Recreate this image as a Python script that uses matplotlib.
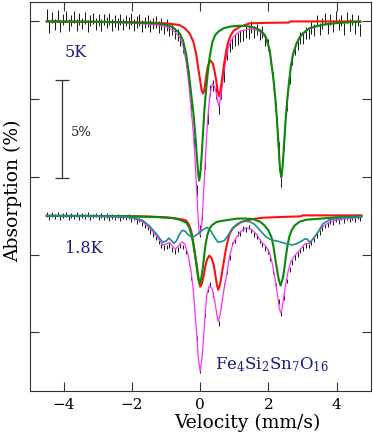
"""Mossbauer spectra of Fe4Si2Sn7O16 at 5 K and 1.8 K with fit components."""
import numpy as np
import matplotlib
matplotlib.use('Agg')
import matplotlib.pyplot as plt

plt.rcParams['font.family'] = 'DejaVu Serif'
plt.rcParams['mathtext.fontset'] = 'dejavuserif'

# ---- 5 K fit (velocity mm/s, absorption % ; baseline 0) ----
vel_red_5k = [-4.5, -3.0, -2.0, -1.5, -1.0, -0.8, -0.6, -0.45, -0.31, -0.2, -0.12, -0.05, 0.0,
              0.04, 0.08, 0.12, 0.17, 0.22, 0.29, 0.37, 0.42, 0.47, 0.51, 0.55, 0.59, 0.64,
              0.7, 0.76, 0.82, 0.9, 0.98, 1.16, 1.45, 2.0, 2.6, 2.65, 4.7]
abs_red_5k = [0.0, -0.02, -0.04, -0.06, -0.1, -0.14, -0.19, -0.35, -0.62, -1.05, -1.65, -2.5, -3.05,
              -3.5, -3.71, -3.55, -2.9, -2.34, -2.0, -2.16, -2.55, -3.03, -3.55, -3.85, -3.6, -3.0,
              -2.2, -1.55, -1.05, -0.7, -0.48, -0.28, -0.1, -0.07, -0.06, 0.0, 0.0]

vel_grn_5k = [-4.5, -3.0, -2.0, -1.5, -1.2, -1.0, -0.8, -0.6, -0.5, -0.41, -0.33, -0.26, -0.2,
              -0.15, -0.1, -0.06, -0.03, 0.0, 0.04, 0.08, 0.13, 0.18, 0.23, 0.28, 0.36, 0.44,
              0.55, 0.7, 0.9, 1.16, 1.4, 1.6, 1.75, 1.85, 1.94, 2.04, 2.1, 2.15, 2.2, 2.25,
              2.3, 2.34, 2.38, 2.42, 2.46, 2.5, 2.55, 2.6, 2.66, 2.72, 2.82, 2.92, 3.02, 3.2,
              3.4, 3.6, 3.8, 4.2, 4.69]
abs_grn_5k = [0.0, -0.02, -0.05, -0.08, -0.12, -0.17, -0.3, -0.62, -1.0, -1.7, -2.7, -3.8, -4.7,
              -5.7, -6.9, -7.8, -8.18, -7.9, -7.0, -5.8, -4.4, -3.4, -2.5, -1.8, -1.05, -0.7,
              -0.5, -0.34, -0.26, -0.22, -0.25, -0.32, -0.45, -0.6, -0.85, -1.5, -2.3, -3.0, -3.9, -5.0,
              -6.4, -7.6, -8.02, -7.4, -6.3, -5.2, -4.1, -3.2, -2.3, -1.7, -1.15, -0.8, -0.6, -0.35,
              -0.25, -0.17, -0.12, -0.06, -0.02]

vel_tot_5k = [-4.5, -3.0, -2.0, -1.5, -1.2, -1.0, -0.8, -0.6, -0.5, -0.41, -0.33, -0.26, -0.2,
              -0.15, -0.1, -0.06, -0.03, 0.0, 0.04, 0.08, 0.13, 0.18, 0.23, 0.28, 0.32, 0.36,
              0.42, 0.47, 0.51, 0.55, 0.59, 0.64, 0.7, 0.76, 0.82, 0.9, 0.98, 1.16, 1.45, 1.6,
              1.75, 1.85, 1.94, 2.04, 2.1, 2.15, 2.2, 2.25, 2.3, 2.34, 2.38, 2.42, 2.46, 2.5,
              2.55, 2.6, 2.66, 2.72, 2.82, 2.92, 3.02, 3.2, 3.4, 3.6, 3.8, 4.2, 4.69]
abs_tot_5k = [0.0, -0.04, -0.09, -0.14, -0.2, -0.27, -0.44, -0.81, -1.28, -2.1, -3.27, -4.6, -5.75,
              -7.1, -8.8, -10.1, -10.9, -11.0, -10.5, -9.5, -7.8, -6.2, -4.8, -3.9, -3.45, -3.2,
              -3.35, -3.65, -4.1, -4.35, -4.05, -3.4, -2.55, -1.9, -1.4, -1.0, -0.78, -0.52, -0.38, -0.42,
              -0.53, -0.68, -0.92, -1.57, -2.37, -3.07, -3.97, -5.07, -6.47, -7.67, -8.09, -7.47, -6.37, -5.27,
              -4.17, -3.27, -2.36, -1.76, -1.21, -0.86, -0.64, -0.38, -0.27, -0.18, -0.13, -0.06, -0.02]

# ---- 1.8 K fit (offset baseline -10) ----
vel_red_18k = [-4.5, -3.0, -2.0, -1.5, -1.0, -0.7, -0.5, -0.41, -0.33, -0.26, -0.2, -0.15, -0.1,
               -0.05, 0.0, 0.05, 0.1, 0.15, 0.2, 0.27, 0.34, 0.4, 0.45, 0.49, 0.53, 0.58, 0.63,
               0.68, 0.73, 0.78, 0.86, 0.95, 1.06, 1.2, 1.35, 1.6, 1.84, 2.4, 2.95, 3.0, 4.73]
abs_red_18k = [-10.0, -10.01, -10.02, -10.04, -10.08, -10.14, -10.2, -10.25, -10.45, -10.8, -11.4, -12.0, -12.55,
               -13.2, -13.65, -13.5, -13.1, -12.6, -12.25, -12.05, -12.2, -12.55, -13.1, -13.55, -13.81, -13.55, -13.05,
               -12.5, -11.95, -11.5, -10.93, -10.65, -10.5, -10.32, -10.24, -10.15, -10.1, -10.06, -10.03, -9.98, -9.98]

vel_grn_18k = [-4.5, -3.0, -2.0, -1.2, -0.8, -0.61, -0.41, -0.32, -0.26, -0.22, -0.16, -0.1, -0.06,
               -0.02, 0.02, 0.08, 0.12, 0.16, 0.21, 0.27, 0.35, 0.47, 0.6, 0.8, 1.06, 1.3, 1.55,
               1.75, 1.89, 2.0, 2.09, 2.15, 2.21, 2.26, 2.31, 2.36, 2.43, 2.47, 2.51, 2.56, 2.61,
               2.68, 2.77, 2.92, 3.12, 3.51, 4.0, 4.73]
abs_grn_18k = [-10.0, -10.01, -10.03, -10.07, -10.12, -10.2, -10.35, -10.6, -10.95, -11.27, -11.9, -12.65, -13.2,
               -13.5, -13.35, -12.65, -12.0, -11.44, -11.0, -10.67, -10.48, -10.33, -10.27, -10.22, -10.15, -10.14, -10.17,
               -10.3, -10.5, -10.75, -11.1, -11.6, -12.3, -12.85, -13.33, -13.59, -13.16, -12.7, -12.13, -11.55, -11.1,
               -10.75, -10.5, -10.3, -10.2, -10.15, -10.08, -10.03]

vel_teal_18k = [-4.5, -3.0, -2.2, -1.9, -1.69, -1.5, -1.3, -1.1, -1.0, -0.92, -0.84, -0.77, -0.7,
                -0.62, -0.53, -0.45, -0.38, -0.3, -0.22, -0.12, -0.02, 0.1, 0.2, 0.3, 0.42, 0.52,
                0.62, 0.71, 0.8, 0.9, 1.0, 1.12, 1.3, 1.45, 1.6, 1.78, 1.94, 2.1, 2.28, 2.53,
                2.7, 2.82, 2.95, 3.07, 3.14, 3.21, 3.3, 3.45, 3.6, 3.8, 4.2, 4.73]
abs_teal_18k = [-10.0, -10.02, -10.05, -10.12, -10.24, -10.5, -10.9, -11.36, -11.3, -11.15, -11.28, -11.42, -11.3,
                -11.0, -10.75, -10.78, -10.92, -11.05, -11.1, -11.0, -10.85, -10.7, -10.6, -10.75, -11.1, -11.36,
                -11.33, -11.27, -11.05, -10.78, -10.55, -10.38, -10.28, -10.3, -10.45, -10.8, -11.1, -11.25, -11.31, -11.44,
                -11.5, -11.44, -11.33, -11.19, -11.2, -11.36, -11.22, -10.85, -10.41, -10.2, -10.1, -10.05]

vel_tot_18k = [-4.5, -3.0, -2.0, -1.7, -1.5, -1.3, -1.1, -1.0, -0.9, -0.8, -0.73, -0.65, -0.55,
               -0.45, -0.35, -0.26, -0.2, -0.15, -0.1, -0.05, 0.0, 0.05, 0.1, 0.15, 0.2, 0.27,
               0.35, 0.42, 0.48, 0.53, 0.58, 0.63, 0.7, 0.78, 0.86, 0.95, 1.06, 1.2, 1.35, 1.5,
               1.65, 1.8, 1.94, 2.04, 2.12, 2.2, 2.27, 2.32, 2.36, 2.4, 2.45, 2.51, 2.58, 2.66,
               2.77, 2.9, 3.0, 3.07, 3.14, 3.21, 3.3, 3.45, 3.6, 3.8, 4.2, 4.73]
abs_tot_18k = [-10.0, -10.04, -10.1, -10.3, -10.6, -11.0, -11.5, -11.45, -11.37, -11.6, -11.72, -11.57, -11.35,
               -11.45, -12.05, -12.95, -13.87, -15.0, -16.15, -17.4, -18.0, -17.38, -16.27, -14.93, -14.0, -13.6,
               -13.75, -14.3, -15.0, -15.45, -15.14, -14.6, -13.75, -13.0, -12.1, -11.5, -11.1, -10.8, -10.62, -10.7,
               -10.95, -11.35, -11.6, -11.95, -12.5, -13.3, -14.1, -14.75, -14.99, -14.8, -14.2, -13.5, -12.85, -12.35,
               -12.05, -11.8, -11.6, -11.45, -11.42, -11.45, -11.2, -10.85, -10.55, -10.32, -10.16, -10.08]

# ---- measured points (channel velocities) ----
data_vel = np.linspace(-4.5, 4.7, 116)
data_5k = [0.35, -0.30, 0.20, -0.15, 0.30, -0.25, 0.10, 0.25, -0.20, 0.05,
           0.22, -0.18, 0.12, -0.10, 0.18, -0.22, 0.05, 0.15, -0.12, 0.08,
           -0.20, 0.10, -0.05, 0.14, -0.18, 0.02, -0.12, 0.10, -0.15, 0.04,
           -0.08, 0.12, -0.20, -0.02, 0.06, -0.22, -0.05, 0.02, -0.25, -0.10,
           -0.02, -0.28, -0.12, -0.35, -0.20, -0.45, -0.38, -0.62, -0.70, -0.95,
           -1.35, -2.05, -3.15, -4.55, -6.30, -8.70, -10.80, -9.90, -7.30, -5.00,
           -3.55, -3.30, -3.70, -4.45, -3.70, -2.80, -1.70, -1.25, -1.10, -0.95,
           -0.90, -0.75, -0.70, -0.55, -0.60, -0.30, -0.55, -0.42, -0.68, -0.55,
           -0.95, -1.20, -1.80, -2.90, -4.45, -6.50, -8.20, -6.30, -4.30, -2.90,
           -1.95, -1.45, -1.15, -0.85, -0.85, -0.60, -0.62, -0.35, -0.45, 0.05,
           -0.38, -0.10, 0.15, -0.35, 0.10, -0.25, 0.25, -0.15, 0.05, -0.40,
           0.20, -0.20, 0.10, -0.35, 0.05, -0.45]
data_18k = [-9.92, -10.08, -9.95, -10.05, -9.90, -10.10, -9.97, -9.93, -10.08, -9.98,
            -10.06, -9.94, -10.10, -9.99, -10.04, -9.95, -10.09, -10.02, -9.96, -10.12,
            -10.00, -10.08, -9.98, -10.14, -10.03, -10.10, -10.02, -10.15, -10.06, -10.12,
            -10.04, -10.18, -10.10, -10.28, -10.22, -10.40, -10.50, -10.62, -10.82, -10.95,
            -11.15, -11.32, -11.55, -11.62, -11.60, -11.52, -11.75, -11.85, -11.72, -11.55,
            -11.60, -11.85, -12.40, -13.20, -14.55, -16.30, -17.95, -17.05, -15.10, -13.80,
            -13.55, -14.05, -14.95, -15.55, -14.65, -13.60, -12.90, -12.15, -11.45, -11.30,
            -10.92, -10.90, -10.65, -10.70, -10.58, -10.78, -10.95, -11.05, -11.30, -11.50,
            -11.68, -11.85, -12.20, -12.85, -13.60, -14.40, -15.05, -14.20, -13.35, -12.75,
            -12.40, -12.15, -12.00, -11.80, -11.70, -11.52, -11.55, -11.40, -11.25, -11.00,
            -10.85, -10.65, -10.52, -10.45, -10.30, -10.36, -10.20, -10.30, -10.12, -10.25,
            -10.10, -10.22, -10.08, -10.20, -10.05, -10.15]

RED = '#ff1010'
GREEN = '#078a07'
TEAL = '#1a8f8f'
MAGENTA = '#ff30ff'
NAVY = '#1a1a85'

fig = plt.figure(figsize=(3.73, 4.33), dpi=100)
ax = fig.add_axes([0.0796, 0.0977, 0.9142, 0.8977])

ax.errorbar(data_vel, data_5k, yerr=0.3, fmt='none', ecolor='#151515', elinewidth=0.7, zorder=1)
ax.errorbar(data_vel, data_18k, yerr=0.12, fmt='none', ecolor='#151515', elinewidth=0.7, zorder=1)

ax.plot(vel_tot_5k, abs_tot_5k, color=MAGENTA, lw=0.9, zorder=2)
ax.plot(vel_red_5k, abs_red_5k, color=RED, lw=1.5, zorder=3)
ax.plot(vel_grn_5k, abs_grn_5k, color=GREEN, lw=1.5, zorder=4)

ax.plot(vel_tot_18k, abs_tot_18k, color=MAGENTA, lw=0.9, zorder=2)
ax.plot(vel_red_18k, abs_red_18k, color=RED, lw=1.5, zorder=3)
ax.plot(vel_grn_18k, abs_grn_18k, color=GREEN, lw=1.5, zorder=4)
ax.plot(vel_teal_18k, abs_teal_18k, color=TEAL, lw=1.2, zorder=5)

# 5% scale bar
ax.errorbar([-4.04], [-5.535], yerr=2.505, fmt='none', ecolor='#333333',
            elinewidth=0.9, capsize=5, capthick=0.9)
ax.text(-3.79, -5.9, '5%', fontsize=9.5, color='#222222', va='baseline')

ax.text(-3.99, -1.82, '5K', fontsize=11.5, color=NAVY, va='baseline')
ax.text(-3.96, -11.9, '1.8K', fontsize=11.5, color=NAVY, va='baseline')
ax.text(0.42, -17.9, r'Fe$_4$Si$_2$Sn$_7$O$_{16}$', fontsize=12, color=NAVY, va='baseline')

ax.set_xlim(-5, 5)
ax.set_ylim(-19, 1)
ax.set_xticks([-4, -2, 0, 2, 4])
ax.set_xticklabels(['\u22124', '\u22122', '0', '2', '4'])
ax.set_yticks([0, -4, -8, -12, -16])
ax.set_yticklabels([])
ax.tick_params(direction='in', length=6.5, width=0.8, top=True, right=True,
               labelsize=11, pad=5, color='#333333')
for sp in ax.spines.values():
    sp.set_linewidth(0.8)
    sp.set_color('#333333')

fig.text(247 / 373, 1 - 423 / 433, 'Velocity (mm/s)', fontsize=13.5, ha='center', va='center')
fig.text(12.5 / 373, 1 - 191 / 433, 'Absorption (%)', fontsize=13.5, ha='center', va='center',
         rotation=90)

fig.savefig('out.png', dpi=100)
